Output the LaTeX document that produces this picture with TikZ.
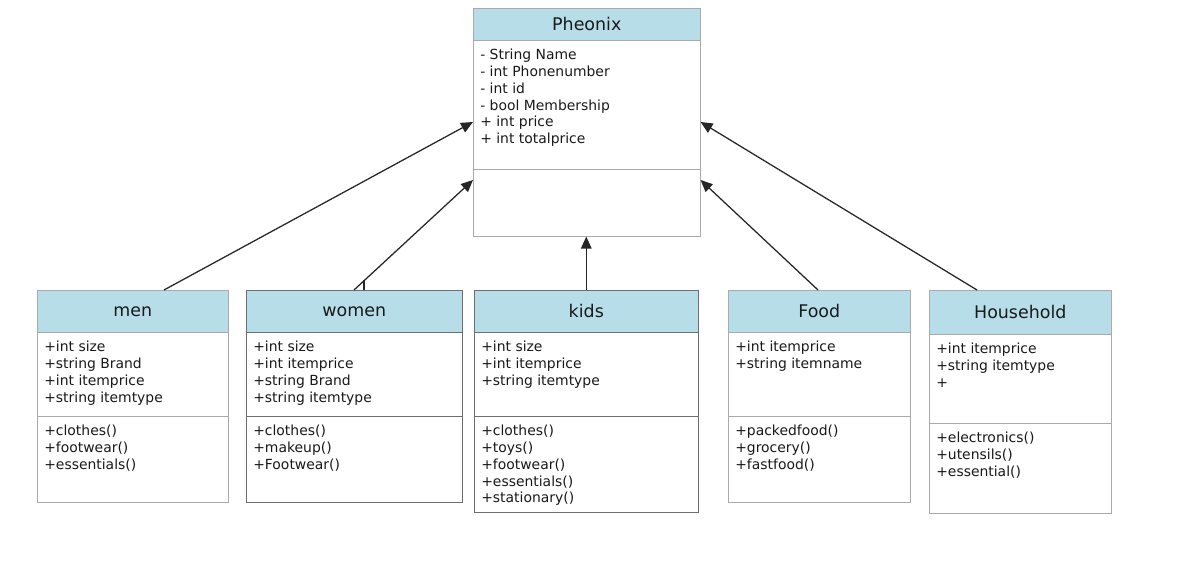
\documentclass[tikz,border=0pt]{standalone}
\usepackage{fontspec}
\setmainfont{DejaVu Sans}
\usetikzlibrary{calc}
\usetikzlibrary{arrows.meta}
\definecolor{headblue}{RGB}{183,222,232}
\definecolor{lightframe}{RGB}{170,170,170}
\definecolor{darkframe}{RGB}{110,110,110}
\definecolor{inktext}{RGB}{25,25,25}
\newdimen\pxu
\pxu=0.025cm
\tikzset{
    classhead/.style={draw=#1, fill=headblue, anchor=north west, inner sep=0pt,
        text=inktext, font=\fontsize{12.4}{14}\selectfont},
    compart/.style={draw=#1, fill=white, anchor=north west, inner sep=0pt},
    members/.style={anchor=north west, inner sep=0pt, align=left, text=inktext,
        font=\fontsize{9.9}{11.9}\selectfont},
    inherit/.style={draw=black!85, line width=0.9pt, -{Triangle[length=8.5pt,width=7.5pt]}}
}

\begin{document}
\begin{tikzpicture}[x=\pxu, y=-\pxu]
            \useasboundingbox (0,0) rectangle (1204,582);
            % parent class
            \node[classhead=lightframe, minimum width=227\pxu, minimum height=32\pxu] (pheonix-head) at (473,8) {Pheonix};
            \node[compart=lightframe, minimum width=227\pxu, minimum height=129\pxu] (pheonix-attr) at (473,40) {};
            \node[compart=lightframe, minimum width=227\pxu, minimum height=67\pxu] (pheonix-meth) at (473,169) {};
            \node[members] (pheonix-attr-text) at ($(pheonix-attr.north west)+(7,9)$)
                {- String Name\\- int Phonenumber\\- int id\\- bool Membership\\+ int price\\+ int totalprice};

            % men
            \node[classhead=lightframe, minimum width=191\pxu, minimum height=42\pxu] (men-head) at (37,290) {men};
            \node[compart=lightframe, minimum width=191\pxu, minimum height=84\pxu] (men-attr) at (37,332) {};
            \node[compart=lightframe, minimum width=191\pxu, minimum height=86\pxu] (men-meth) at (37,416) {};
            \node[members] (men-attr-text) at ($(men-attr.north west)+(7,9)$)
                {+int size\\+string Brand\\+int itemprice\\+string itemtype};
            \node[members] (men-meth-text) at ($(men-meth.north west)+(7,9)$)
                {+clothes()\\+footwear()\\+essentials()};

            % women
            \node[classhead=darkframe, minimum width=216\pxu, minimum height=42\pxu] (women-head) at (246,290) {women};
            \node[compart=darkframe, minimum width=216\pxu, minimum height=84\pxu] (women-attr) at (246,332) {};
            \node[compart=darkframe, minimum width=216\pxu, minimum height=86\pxu] (women-meth) at (246,416) {};
            \node[members] (women-attr-text) at ($(women-attr.north west)+(7,9)$)
                {+int size\\+int itemprice\\+string Brand\\+string itemtype};
            \node[members] (women-meth-text) at ($(women-meth.north west)+(7,9)$)
                {+clothes()\\+makeup()\\+Footwear()};

            % kids
            \node[classhead=darkframe, minimum width=224\pxu, minimum height=42\pxu] (kids-head) at (474,290) {kids};
            \node[compart=darkframe, minimum width=224\pxu, minimum height=84\pxu] (kids-attr) at (474,332) {};
            \node[compart=darkframe, minimum width=224\pxu, minimum height=96\pxu] (kids-meth) at (474,416) {};
            \node[members] (kids-attr-text) at ($(kids-attr.north west)+(7,9)$)
                {+int size\\+int itemprice\\+string itemtype};
            \node[members] (kids-meth-text) at ($(kids-meth.north west)+(7,9)$)
                {+clothes()\\+toys()\\+footwear()\\+essentials()\\+stationary()};

            % food
            \node[classhead=lightframe, minimum width=182\pxu, minimum height=42\pxu] (food-head) at (728,290) {Food};
            \node[compart=lightframe, minimum width=182\pxu, minimum height=84\pxu] (food-attr) at (728,332) {};
            \node[compart=lightframe, minimum width=182\pxu, minimum height=86\pxu] (food-meth) at (728,416) {};
            \node[members] (food-attr-text) at ($(food-attr.north west)+(7,9)$)
                {+int itemprice\\+string itemname};
            \node[members] (food-meth-text) at ($(food-meth.north west)+(7,9)$)
                {+packedfood()\\+grocery()\\+fastfood()};

            % household
            \node[classhead=lightframe, minimum width=182\pxu, minimum height=44\pxu] (household-head) at (929,290) {Household};
            \node[compart=lightframe, minimum width=182\pxu, minimum height=89\pxu] (household-attr) at (929,334) {};
            \node[compart=lightframe, minimum width=182\pxu, minimum height=90\pxu] (household-meth) at (929,423) {};
            \node[members] (household-attr-text) at ($(household-attr.north west)+(7,9)$)
                {+int itemprice\\+string itemtype\\+};
            \node[members] (household-meth-text) at ($(household-meth.north west)+(7,9)$)
                {+electronics()\\+utensils()\\+essential()};

            % inheritance arrows
            \draw[inherit] (men-head.north -| 164,0) -- (pheonix-attr.west |- 0,122);
            \draw[inherit] (women-head.north -| 354,0) -- (pheonix-meth.west |- 0,180);
            \coordinate (women-stub) at (364,280);
            \draw[draw=black!85, line width=0.9pt] (women-stub) -- (women-stub |- women-head.north);
            \draw[inherit] (kids-head.north) -- (kids-head.north |- pheonix-meth.south);
            \draw[inherit] (food-head.north -| 818,0) -- (pheonix-meth.east |- 0,180);
            \draw[inherit] (household-head.north -| 977,0) -- (pheonix-attr.east |- 0,122);
        \end{tikzpicture}
\end{document}
